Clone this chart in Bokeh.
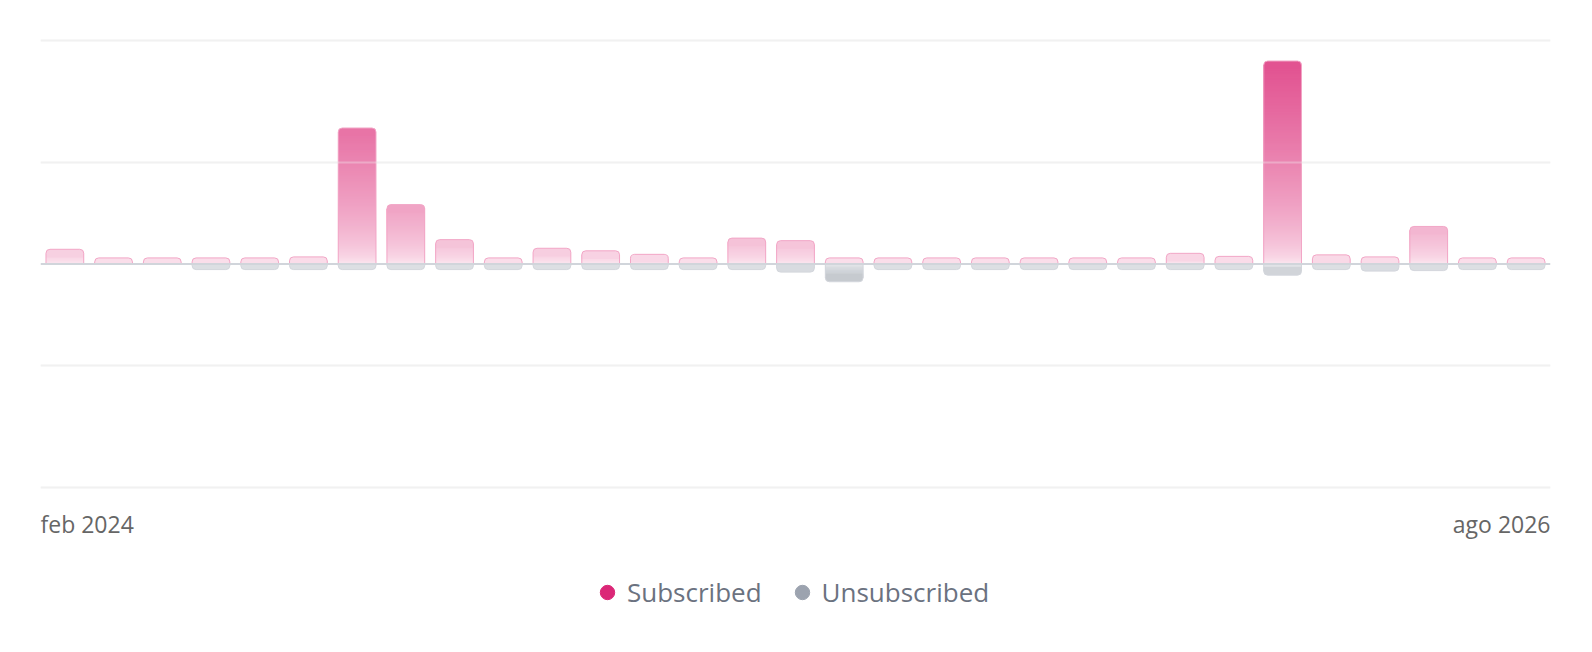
import numpy as np
from bokeh.plotting import figure
from bokeh.models import (Range1d, ColumnDataSource, Grid, FixedTicker, Span,
                          Label, Legend, LegendItem)
from bokeh.embed import file_html
from bokeh.resources import INLINE

# ---------------- data ----------------
months = ["feb 2024", "mar 2024", "abr 2024", "may 2024", "jun 2024", "jul 2024",
          "ago 2024", "sep 2024", "oct 2024", "nov 2024", "dic 2024", "ene 2025",
          "feb 2025", "mar 2025", "abr 2025", "may 2025", "jun 2025", "jul 2025",
          "ago 2025", "sep 2025", "oct 2025", "nov 2025", "dic 2025", "ene 2026",
          "feb 2026", "mar 2026", "abr 2026", "may 2026", "jun 2026", "jul 2026",
          "ago 2026"]
tick_labels = ["feb 2024", "ago 2026"]
series_names = ["Subscribed", "Unsubscribed"]
subscribed = [14.5, 6, 6, 6, 6, 7, 134, 58.5, 24, 6, 15.5, 13, 9.5, 6, 25.5, 23,
              6, 6, 6, 6, 6, 6, 6, 10.5, 7.5, 200, 9, 7, 37, 6, 6]
unsubscribed = [0, 0, 0, 5.5, 5.5, 5.5, 5.5, 5.5, 5.5, 5.5, 5.5, 5.5, 5.5, 5.5, 5.5, 8,
                17.5, 5.5, 5.5, 5.5, 5.5, 5.5, 5.5, 5.5, 5.5, 11, 5.5, 7, 6.5, 5.5, 5.5]
grid_values = [-220, -100, 100, 220]

# ---------------- layout / styling ----------------
PX = 1.015                 # pixels per value unit
FRAME_TOP, FRAME_H = 4, 640
ZERO_PX = 263.5            # page y of the zero line
Y_HI = (ZERO_PX - FRAME_TOP) / PX
Y_LO = -(FRAME_TOP + FRAME_H - ZERO_PX) / PX
BAR_W = 0.775
PINK0, PINK1 = (252, 234, 242), (224, 72, 138)
GREY0, GREY1 = (238, 240, 243), (75, 85, 99)
PINK_DOT, GREY_DOT = "#db2777", "#9ca3af"
FONT = "Open Sans"


def shade(c0, c1, h, gamma):
    t = min(max(abs(h) / 220.0, 0.0), 1.0) ** gamma
    return "#%02x%02x%02x" % tuple(int(round(a + t * (b - a))) for a, b in zip(c0, c1))


n = len(months)
xs = [i + 0.5 for i in range(n)]

body = dict(x=[], top=[], bottom=[], color=[])
cap_pos = dict(x=[], top=[], bottom=[], color=[])
cap_neg = dict(x=[], top=[], bottom=[], color=[])
STEP = 1.5
for x, s, u in zip(xs, subscribed, unsubscribed):
    if s > 0:
        lim = max(s - 4, 0)
        b = 0.0
        while b < lim:
            t = min(b + STEP, lim)
            body["x"].append(x); body["bottom"].append(b)
            body["top"].append(lim); body["color"].append(shade(PINK0, PINK1, (b + t) / 2, 0.6))
            b = t
        cb = max(0.0, s - 8)
        cap_pos["x"].append(x); cap_pos["bottom"].append(cb); cap_pos["top"].append(s)
        cap_pos["color"].append(shade(PINK0, PINK1, (cb + s) / 2, 0.6))
    if u > 0:
        lim = max(u - 4, 0)
        b = 0.0
        while b < lim:
            t = min(b + STEP, lim)
            body["x"].append(x); body["top"].append(-b)
            body["bottom"].append(-lim); body["color"].append(shade(GREY0, GREY1, (b + t) / 2, 0.5))
            b = t
        cb = max(0.0, u - 8)
        cap_neg["x"].append(x); cap_neg["top"].append(-cb); cap_neg["bottom"].append(-u)
        cap_neg["color"].append(shade(GREY0, GREY1, (cb + u) / 2, 0.5))

p = figure(frame_width=1510, frame_height=FRAME_H,
           min_border_left=40, min_border_right=34, min_border_top=FRAME_TOP, min_border_bottom=4,
           x_range=Range1d(0, n), y_range=Range1d(Y_LO, Y_HI),
           x_axis_location=None, y_axis_location=None,
           output_backend="svg", toolbar_location=None)
p.center = [r for r in p.center if not isinstance(r, Grid)]
p.outline_line_color = None
p.background_fill_color = "white"
p.border_fill_color = "white"

p.add_layout(Grid(dimension=1, ticker=FixedTicker(ticks=grid_values),
                  grid_line_color="#f1f1f1", grid_line_width=2))

p.vbar(x="x", top="top", bottom="bottom", width=BAR_W, source=ColumnDataSource(body),
       fill_color="color", line_color=None)
p.vbar(x="x", top="top", bottom="bottom", width=BAR_W, source=ColumnDataSource(cap_pos),
       fill_color="color", line_color=None, border_radius=(4, 4, 0, 0))
p.vbar(x="x", top="top", bottom="bottom", width=BAR_W, source=ColumnDataSource(cap_neg),
       fill_color="color", line_color=None, border_radius=(0, 0, 4, 4))

pos_src = ColumnDataSource(dict(x=[x for x, s in zip(xs, subscribed) if s > 0],
                                top=[s for s in subscribed if s > 0]))
neg_src = ColumnDataSource(dict(x=[x for x, u in zip(xs, unsubscribed) if u > 0],
                                bottom=[-u for u in unsubscribed if u > 0]))
p.vbar(x="x", top="top", bottom=0, width=BAR_W, source=pos_src, fill_color=None,
       line_color="#f2a6c6", line_width=1, border_radius=(4, 4, 0, 0))
p.vbar(x="x", top=0, bottom="bottom", width=BAR_W, source=neg_src, fill_color=None,
       line_color="#d3d6dc", line_width=1, border_radius=(0, 0, 4, 4))

# grid faintly visible through the translucent bars
p.add_layout(Grid(dimension=1, ticker=FixedTicker(ticks=grid_values), level="annotation",
                  grid_line_color="#f1f1f1", grid_line_alpha=0.35, grid_line_width=2))
p.add_layout(Span(location=0, dimension="width", line_color="#d1d5db", line_width=2))

# x labels (first and last month)
label_y = (ZERO_PX - 523) / PX
p.add_layout(Label(x=0, y=label_y, text=tick_labels[0],
                   text_align="left", text_baseline="alphabetic", text_font=FONT,
                   text_font_size="23px", text_color="#666666"))
p.add_layout(Label(x=n, y=label_y, text=tick_labels[1],
                   text_align="right", text_baseline="alphabetic", text_font=FONT,
                   text_font_size="23px", text_color="#666666"))

# legend (proxy renderers without drawable points)
nan = float("nan")
r1 = p.scatter(x=[nan], y=[nan], marker="circle", size=14, fill_color=PINK_DOT, line_color=PINK_DOT)
r2 = p.scatter(x=[nan], y=[nan], marker="circle", size=14, fill_color=GREY_DOT, line_color=GREY_DOT)
legend = Legend(items=[LegendItem(label=series_names[0], renderers=[r1]),
                       LegendItem(label=series_names[1], renderers=[r2])],
                location=(549, FRAME_TOP + FRAME_H - 610), orientation="horizontal",
                border_line_color=None, background_fill_alpha=0,
                padding=0, margin=0, glyph_width=36, glyph_height=36,
                label_standoff=2, spacing=22,
                label_text_font=FONT, label_text_font_size="26px",
                label_text_color="#6b7280")
p.add_layout(legend, "center")

open("out.html", "w").write(file_html(p, INLINE))
